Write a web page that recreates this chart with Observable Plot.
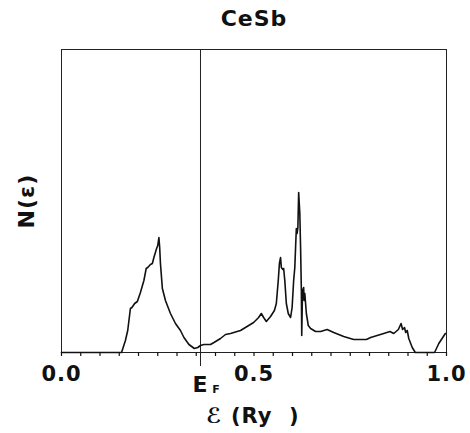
<!DOCTYPE html>
<html>
<head>
<meta charset="utf-8">
<script src="https://cdn.jsdelivr.net/npm/d3@7"></script>
<script src="https://cdn.jsdelivr.net/npm/@observablehq/plot@0.6"></script>
<style>
  html, body { margin: 0; padding: 0; background: #fff; }
  svg text { letter-spacing: 1px; }
</style>
</head>
<body>
<div id="chart"></div>
<script>
// Energy (Ry) and density of states N(E) (arbitrary units)
const energy = [0.000, 0.156, 0.166, 0.172, 0.179, 0.183, 0.190, 0.197, 0.205, 0.214, 0.220, 0.224, 0.231, 0.236, 0.240, 0.247, 0.250, 0.253, 0.255, 0.257, 0.262, 0.270, 0.283, 0.296, 0.309, 0.318, 0.331, 0.345, 0.354, 0.361, 0.370, 0.387, 0.396, 0.413, 0.426, 0.439, 0.465, 0.482, 0.499, 0.512, 0.519, 0.525, 0.532, 0.543, 0.553, 0.558, 0.563, 0.566, 0.569, 0.571, 0.575, 0.577, 0.580, 0.584, 0.589, 0.595, 0.599, 0.603, 0.606, 0.608, 0.610, 0.612, 0.614, 0.616, 0.619, 0.621, 0.623, 0.624, 0.626, 0.629, 0.630, 0.632, 0.634, 0.636, 0.641, 0.647, 0.660, 0.673, 0.690, 0.707, 0.733, 0.759, 0.792, 0.803, 0.820, 0.837, 0.853, 0.863, 0.875, 0.882, 0.886, 0.891, 0.894, 0.898, 0.902, 0.911, 0.919, 0.969, 0.980, 0.997];
const dos    = [0, 0, 12, 22, 44, 45, 49, 51, 60, 72, 84, 85, 88, 89, 95, 104, 107, 115, 105, 89, 64, 52, 39, 29, 22, 15, 8, 4, 5, 7, 8, 8, 10, 14, 18, 19, 22, 26, 30, 35, 39, 35, 31, 36, 42, 49, 72, 89, 95, 85, 83, 84, 72, 49, 39, 35, 45, 72, 85, 105, 124, 119, 125, 160, 139, 105, 62, 17, 62, 65, 52, 59, 49, 39, 27, 24, 21, 21, 23, 20, 16, 13, 13, 15, 17, 19, 21, 19, 23, 29, 23, 25, 20, 22, 14, 5, 0, 0, 9, 19];

const fermiEnergy = [0.361];
const tickValues = [0, 0.5, 1.0];
const tickLabels = ["0.0", "0.5", "1.0"];
const minorTicks = [0, 0.05, 0.1, 0.15, 0.2, 0.25, 0.3, 0.35, 0.4, 0.45, 0.5, 0.55, 0.6, 0.65, 0.7, 0.75, 0.8, 0.85, 0.9, 0.95, 1.0];
const title = "CeSb";
const xTitle = "ℰ (Ry  )";
const yTitle = "N(ε)";

const data = energy.map((e, i) => ({e, n: dos[i]}));
const font = "DejaVu Sans";

const chart = Plot.plot({
  width: 470,
  height: 433,
  marginLeft: 61,
  marginRight: 24,
  marginTop: 49,
  marginBottom: 81,
  style: {fontFamily: font, background: "#fff", color: "#111"},
  x: {domain: [0, 1], axis: null},
  y: {domain: [0, 303], axis: null},
  marks: [
    Plot.frame({stroke: "#222", strokeWidth: 1}),
    Plot.ruleX(minorTicks, {x: d => d, y1: -4, y2: 0, stroke: "#111", strokeWidth: 1.2}),
    Plot.axisX(tickValues, {
      tickSize: 0, tickPadding: 14, label: null,
      tickFormat: d => tickLabels[tickValues.indexOf(d)],
      fontSize: 21, fontWeight: "bold", fill: "#111"
    }),
    Plot.ruleX(fermiEnergy, {x: d => d, y1: -14, y2: 303, stroke: "#222", strokeWidth: 1}),
    Plot.text(fermiEnergy, {x: d => d, y: 0, text: () => "E", dy: 32, fontSize: 22, fontWeight: "bold", fill: "#111"}),
    Plot.text(fermiEnergy, {x: d => d, y: 0, text: () => "F", dx: 16, dy: 37, fontSize: 11, fontWeight: "bold", fill: "#111"}),
    Plot.line(data, {x: "e", y: "n", stroke: "#111", strokeWidth: 1.6, curve: "linear"}),
    Plot.text([title], {frameAnchor: "top", lineAnchor: "middle", dy: -31, fontSize: 22, fontWeight: "bold", fill: "#111"}),
    Plot.text([xTitle], {frameAnchor: "bottom", lineAnchor: "middle", dx: -1, dy: 64, fontSize: 21, fontWeight: "bold", fill: "#111"}),
    Plot.text([yTitle], {frameAnchor: "left", textAnchor: "middle", lineAnchor: "middle", dx: -35, rotate: -90, fontSize: 22, fontWeight: "bold", fill: "#111"})
  ]
});
document.getElementById("chart").appendChild(chart);
</script>
</body>
</html>
